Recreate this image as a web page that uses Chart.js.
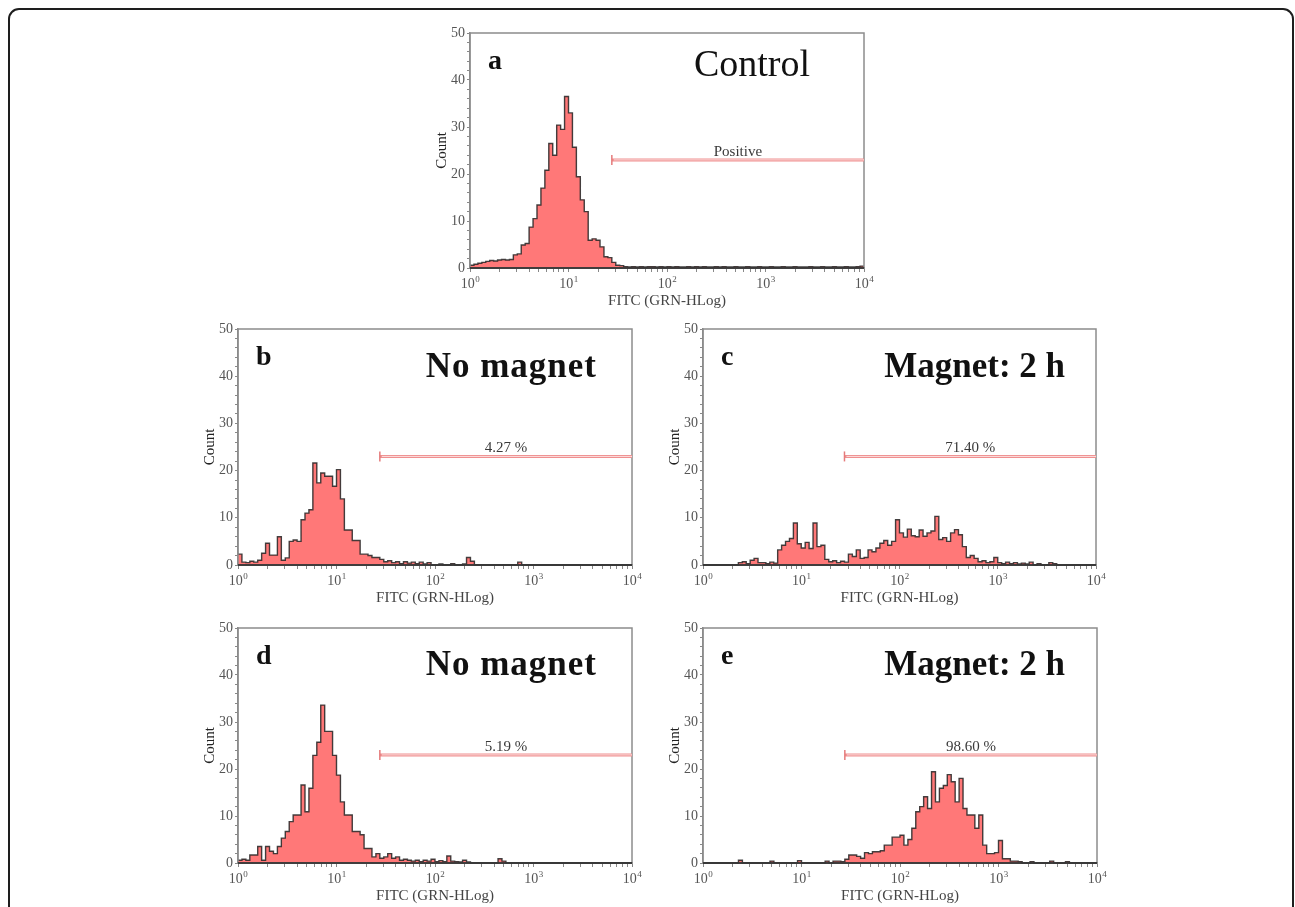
<!DOCTYPE html>
<html>
<head>
<meta charset="utf-8">
<script src="https://cdn.jsdelivr.net/npm/chart.js@4.4.1/dist/chart.umd.min.js"></script>
<style>
    body { margin: 0; background: #fff; }
    #page { position: relative; width: 1295px; height: 907px; overflow: hidden; background: #fff; }
    #frame { position: absolute; left: 8px; top: 8px; width: 1286px; height: 960px; box-sizing: border-box;
             border: 2px solid #1e1e1e; border-radius: 11px; }
    canvas { position: absolute; }
</style>
</head>
<body>
<div id="page"><div id="frame"></div></div>
<script>
// x axis is in cytometer channels, 25 channels per decade (10^0 .. 10^4)
const decadeExponents = ['0', '1', '2', '3', '4']
const channelsPerDecade = 25
const gateStart = 36      // channel where the marker starts
const gateLevel = 23      // count level the marker is drawn at
const panelLetters = ['a', 'b', 'c', 'd', 'e']
const panelTitles = ['Control', 'No magnet', 'Magnet: 2 h', 'No magnet', 'Magnet: 2 h']
const gateLabels = ['Positive', '4.27 %', '71.40 %', '5.19 %', '98.60 %']

const controlCounts = [
    0.6, 0.8, 1.0, 1.2, 1.4, 1.6, 1.5, 1.7, 1.8, 1.7,
    1.8, 2.8, 3.0, 4.9, 5.2, 8.7, 10.5, 13.4, 17, 20.8,
    26.5, 24, 30.4, 29.5, 36.5, 33, 25.7, 19.4, 14.5, 12,
    5.9, 6.2, 5.9, 4.5, 2.4, 2.2, 1.2, 0.6, 0.5, 0.3,
    0.2, 0.3, 0.2, 0.3, 0.2, 0.3, 0.3, 0.2, 0.3, 0.2,
    0.3, 0.2, 0.3, 0.2, 0.2, 0.3, 0.2, 0.3, 0.2, 0.3,
    0.2, 0.2, 0.3, 0.2, 0.3, 0.2, 0.2, 0.3, 0.2, 0.2,
    0.3, 0.2, 0.2, 0.3, 0.2, 0.2, 0.3, 0.2, 0.2, 0.3,
    0.2, 0.2, 0.3, 0.2, 0.2, 0.2, 0.3, 0.2, 0.2, 0.3,
    0.2, 0.2, 0.3, 0.2, 0.2, 0.3, 0.2, 0.2, 0.3, 0.4
]
const noMagnetCountsB = [
    2.3, 0.6, 0.5, 0.8, 0.6, 1.0, 2.5, 4.6, 2.1, 2.1,
    6.0, 1.0, 1.5, 5.0, 5.3, 5.0, 9.6, 11.0, 11.7, 21.6,
    17.4, 19.5, 18.8, 18.8, 16.7, 20.2, 14.0, 7.4, 7.4, 5.2,
    5.2, 2.3, 2.3, 2.0, 1.6, 1.6, 1.2, 0.7, 0.9, 0.5,
    0.7, 0.3, 0.7, 0.4, 0.6, 0.3, 0.6, 0.2, 0.5, 0,
    0, 0.2, 0, 0, 0.3, 0, 0, 0.2, 1.6, 0.8,
    0, 0, 0, 0, 0, 0, 0, 0, 0, 0,
    0, 0.6, 0, 0, 0, 0, 0, 0, 0, 0,
    0, 0, 0, 0, 0, 0, 0, 0, 0, 0,
    0, 0, 0, 0, 0, 0, 0, 0, 0, 0
]
const magnetCountsC = [
    0, 0, 0, 0, 0, 0, 0, 0, 0, 0.5,
    0.7, 0.3, 1.0, 1.4, 0.5, 0.5, 0.3, 0.6, 0.4, 3.2,
    4.2, 5.0, 5.6, 8.9, 4.5, 3.6, 4.8, 3.5, 8.9, 3.9,
    4.2, 1.2, 0.7, 0.9, 0.5, 0.8, 0.6, 2.3, 1.8, 3.2,
    1.4, 1.6, 3.2, 2.8, 3.6, 4.6, 5.2, 4.2, 5.0, 9.6,
    6.8, 5.9, 7.6, 6.2, 6.0, 7.4, 6.1, 6.8, 7.2, 10.3,
    5.4, 5.8, 5.0, 6.8, 7.5, 6.4, 3.9, 1.6, 2.0, 1.4,
    0.7, 0.9, 0.5, 0.7, 1.6, 0.5, 0.3, 0.6, 0.3, 0.5,
    0.2, 0.4, 0.2, 0.6, 0, 0.3, 0, 0, 0.5, 0.3,
    0, 0, 0, 0, 0, 0, 0, 0, 0, 0
]
const noMagnetCountsD = [
    0.6, 0.8, 0.6, 1.7, 1.7, 3.5, 0.6, 3.5, 2.5, 2.0,
    3.5, 5.3, 6.7, 8.8, 10.2, 10.2, 16.6, 10.9, 15.9, 22.9,
    25.7, 33.6, 28.0, 28.0, 22.9, 18.7, 13.0, 10.2, 10.2, 6.7,
    6.7, 6.0, 3.1, 3.1, 1.3, 2.0, 1.0, 1.3, 2.0, 1.0,
    1.3, 0.6, 0.8, 0.6, 0.4, 0.6, 0.3, 0.6, 0.4, 0.8,
    0.3, 0.5, 0.3, 1.5, 0.4, 0.3, 0.2, 0.6, 0.2, 0,
    0, 0, 0, 0, 0, 0, 0.9, 0.4, 0, 0,
    0, 0, 0, 0, 0, 0, 0, 0, 0, 0,
    0, 0, 0, 0, 0, 0, 0, 0, 0, 0,
    0, 0, 0, 0, 0, 0, 0, 0, 0, 0
]
const magnetCountsE = [
    0, 0, 0, 0, 0, 0, 0, 0, 0, 0.6,
    0, 0, 0, 0, 0, 0, 0, 0.4, 0, 0,
    0, 0, 0, 0, 0.5, 0, 0, 0, 0, 0,
    0, 0.4, 0, 0.4, 0.4, 0.3, 0.8, 1.7, 1.7, 1.4,
    1.0, 2.2, 2.0, 2.4, 2.4, 2.6, 3.8, 3.8, 5.5, 5.5,
    5.9, 3.8, 5.0, 7.4, 10.9, 12.0, 14.1, 11.6, 19.4, 13.0,
    15.9, 16.5, 18.8, 17.3, 13.0, 18.0, 11.6, 10.2, 10.2, 7.4,
    10.2, 3.8, 2.0, 2.0, 2.2, 4.8, 0.9, 0.9, 0.4, 0.4,
    0.3, 0, 0, 0.3, 0, 0, 0, 0, 0.4, 0,
    0, 0, 0.3, 0, 0, 0, 0, 0, 0, 0
]
const panelCounts = [controlCounts, noMagnetCountsB, magnetCountsC, noMagnetCountsD, magnetCountsE]

// plot boxes on the page: left, top, right, bottom of the plotting area
const layout = [
    { box: [470, 33, 864, 268], titleFont: 'normal 38px', titleRight: 54, titleBase: 43, spacing: '0px' },
    { box: [238, 329, 632, 565], titleFont: 'bold 35px', titleRight: 35, titleBase: 48, spacing: '1px' },
    { box: [703, 329, 1096, 565], titleFont: 'bold 35px', titleRight: 31, titleBase: 48, spacing: '0px' },
    { box: [238, 628, 632, 863], titleFont: 'bold 35px', titleRight: 35, titleBase: 47, spacing: '1px' },
    { box: [703, 628, 1097, 863], titleFont: 'bold 35px', titleRight: 32, titleBase: 47, spacing: '0px' }
]

const SERIF = '"Liberation Serif", "Times New Roman", serif'
const padL = 50, padT = 12, padR = 12, padB = 44

// decade ticks plus the minor log ticks in between
const xTicks = []
for (let k = 0; k < 4; k++) {
    for (let m = 1; m < 10; m++) xTicks.push(channelsPerDecade * (k + Math.log10(m)))
}
xTicks.push(channelsPerDecade * 4)

const decor = {
    id: 'decor',
    afterDatasetsDraw (chart, args, opts) {
        const { ctx, chartArea: a, scales } = chart
        ctx.save()
        // plot frame
        ctx.strokeStyle = '#8c8c8c'
        ctx.lineWidth = 1.5
        ctx.strokeRect(a.left, a.top, a.right - a.left, a.bottom - a.top)
        ctx.strokeStyle = '#222'
        ctx.lineWidth = 1.3
        ctx.beginPath(); ctx.moveTo(a.left, a.bottom); ctx.lineTo(a.right, a.bottom); ctx.stroke()

        // decade labels 10^k under the x axis
        ctx.fillStyle = '#555'
        ctx.textBaseline = 'alphabetic'
        decadeExponents.forEach((e, k) => {
            const px = scales.x.getPixelForValue(k * channelsPerDecade)
            const by = a.bottom + 20
            ctx.font = '14px ' + SERIF
            const w10 = ctx.measureText('10').width
            ctx.font = '9px ' + SERIF
            const we = ctx.measureText(e).width
            const x0 = px - (w10 + we) / 2
            ctx.textAlign = 'left'
            ctx.font = '14px ' + SERIF
            ctx.fillText('10', x0, by)
            ctx.font = '9px ' + SERIF
            ctx.fillText(e, x0 + w10 + 0.5, by - 6)
        })

        // gate marker
        const gx = scales.x.getPixelForValue(gateStart)
        const gy = scales.y.getPixelForValue(gateLevel)
        ctx.strokeStyle = '#ef9090'
        ctx.lineWidth = 3
        ctx.beginPath(); ctx.moveTo(gx, gy); ctx.lineTo(a.right, gy); ctx.stroke()
        ctx.strokeStyle = '#fcdcdc'
        ctx.lineWidth = 1
        ctx.beginPath(); ctx.moveTo(gx + 2, gy); ctx.lineTo(a.right, gy); ctx.stroke()
        ctx.strokeStyle = '#e57b7b'
        ctx.lineWidth = 1.5
        ctx.beginPath(); ctx.moveTo(gx, gy - 5); ctx.lineTo(gx, gy + 5); ctx.stroke()
        ctx.fillStyle = '#3a3a3a'
        ctx.font = '15px ' + SERIF
        ctx.textAlign = 'center'
        ctx.fillText(opts.gateLabel, (gx + a.right) / 2, gy - 4)

        // panel letter and title
        ctx.fillStyle = '#111'
        ctx.textAlign = 'left'
        ctx.font = 'bold 28px ' + SERIF
        ctx.fillText(opts.letter, a.left + 18, a.top + 36)
        ctx.textAlign = 'right'
        ctx.font = opts.titleFont + ' ' + SERIF
        ctx.letterSpacing = opts.spacing
        ctx.fillText(opts.title, a.right - opts.titleRight, a.top + opts.titleBase)
        ctx.letterSpacing = '0px'

        // axis titles
        ctx.fillStyle = '#444'
        ctx.font = '15px ' + SERIF
        ctx.textAlign = 'center'
        ctx.textBaseline = 'middle'
        ctx.fillText('FITC (GRN-HLog)', (a.left + a.right) / 2, a.bottom + 33)
        ctx.translate(a.left - 28, (a.top + a.bottom) / 2)
        ctx.rotate(-Math.PI / 2)
        ctx.fillStyle = '#222'
        ctx.fillText('Count', 0, 0)
        ctx.restore()
    }
}

const page = document.getElementById('page')
panelCounts.forEach((counts, p) => {
    const [L, T, R, B] = layout[p].box
    const canvas = document.createElement('canvas')
    canvas.width = R - L + padL + padR
    canvas.height = B - T + padT + padB
    canvas.style.left = (L - padL) + 'px'
    canvas.style.top = (T - padT) + 'px'
    page.appendChild(canvas)

    const points = counts.map((c, i) => ({ x: i, y: c }))
    points.push({ x: counts.length, y: counts[counts.length - 1] })

    new Chart(canvas, {
        type: 'line',
        data: {
            datasets: [{
                data: points,
                stepped: true,
                fill: 'origin',
                backgroundColor: '#ff7878',
                borderColor: 'rgba(35,35,35,0.85)',
                borderWidth: 1.4,
                pointRadius: 0,
                clip: 3
            }]
        },
        options: {
            responsive: false,
            animation: false,
            events: [],
            layout: { padding: { left: 0, top: padT, right: padR, bottom: 0 } },
            plugins: {
                legend: { display: false },
                tooltip: { enabled: false },
                decor: {
                    letter: panelLetters[p],
                    title: panelTitles[p],
                    gateLabel: gateLabels[p],
                    titleFont: layout[p].titleFont,
                    titleRight: layout[p].titleRight,
                    titleBase: layout[p].titleBase,
                    spacing: layout[p].spacing
                }
            },
            scales: {
                x: {
                    type: 'linear',
                    min: 0,
                    max: channelsPerDecade * 4,
                    afterBuildTicks: s => { s.ticks = xTicks.map(v => ({ value: v })) },
                    afterFit: s => { s.height = padB },
                    ticks: {
                        autoSkip: false,
                        maxRotation: 0,
                        minRotation: 0,
                        callback: () => ''
                    },
                    grid: { drawOnChartArea: false, drawTicks: true, tickLength: 4, color: '#888' },
                    border: { display: true, color: '#888', width: 1.5 }
                },
                y: {
                    min: 0,
                    max: 50,
                    afterFit: s => { s.width = padL },
                    ticks: {
                        stepSize: 2,
                        autoSkip: false,
                        padding: 2,
                        color: '#555',
                        font: { family: SERIF, size: 14 },
                        callback: v => v % 10 === 0 ? v : ''
                    },
                    grid: { drawOnChartArea: false, drawTicks: true, tickLength: 3, color: '#888' },
                    border: { display: true, color: '#888', width: 1.5 }
                }
            }
        },
        plugins: [decor]
    })
})
</script>
</body>
</html>
